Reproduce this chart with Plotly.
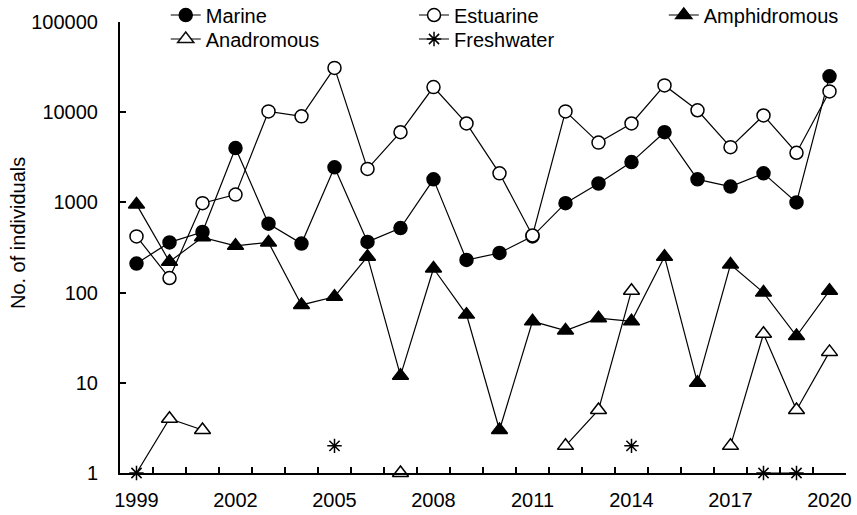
import plotly.graph_objects as go

years = list(range(1999, 2021))

marine = [210, 360, 470, 4000, 580, 350, 2450, 365, 520, 1800, 230, 275,
          420, 980, 1620, 2800, 6000, 1800, 1500, 2100, 1000, 25000]
estuarine = [420, 145, 980, 1220, 10200, 9000, 31000, 2350, 6000, 19000, 7500, 2100,
             430, 10200, 4600, 7500, 19800, 10500, 4100, 9200, 3550, 17000]
amphidromous = [950, 220, 410, 330, 360, 73, 90, 250, 12, 185, 57, 3,
                48, 38, 52, 48, 250, 10, 205, 100, 33, 105]
anadromous = [1, 4, 3, None, None, None, None, None, 1, None, None, None,
              None, 2, 5, 105, None, None, 2, 35, 5, 22]
freshwater = [1, None, None, None, None, None, 2, None, None, None, None, None,
              None, None, None, 2, None, None, None, 1, 1, None]

ytick_vals = [1, 10, 100, 1000, 10000, 100000]
ytick_text = ["1", "10", "100", "1000", "10000", "100000"]
xtick_vals = [1999, 2002, 2005, 2008, 2011, 2014, 2017, 2020]
xtick_text = [str(v) for v in xtick_vals]

FONT = "Liberation Sans, Arial, sans-serif"
FS = 20

# (name, values, marker style, legend id, legend x, legend y) -- legend pos in paper coords
series = [
    ("Marine", marine, dict(symbol="circle", color="black", size=13,
                            line=dict(color="black", width=1.5)), "legend", 0.063, 1.0155),
    ("Estuarine", estuarine, dict(symbol="circle", color="white", size=13,
                                  line=dict(color="black", width=1.5)), "legend2", 0.405, 1.0155),
    ("Amphidromous", amphidromous, dict(symbol="triangle-up", color="black", size=14,
                                        line=dict(color="black", width=1.5)), "legend3", 0.749, 1.0155),
    ("Anadromous", anadromous, dict(symbol="triangle-up", color="white", size=14,
                                    opacity=[0] + [1] * (len(years) - 1),
                                    line=dict(color="black", width=1.5)), "legend4", 0.063, 0.9623),
    ("Freshwater", freshwater, dict(symbol="asterisk-open", color="black", size=12,
                                    line=dict(color="black", width=1.5)), "legend5", 0.405, 0.9623),
]

fig = go.Figure()
legends = {}
for name, vals, marker, leg, lx, ly in series:
    fig.add_trace(go.Scatter(
        x=years, y=vals, name=name, mode="lines+markers",
        line=dict(color="black", width=1.2),
        marker=marker, cliponaxis=False, legend=leg, showlegend=True,
        connectgaps=False,
    ))
    legends[leg] = dict(x=lx, y=ly, orientation="v", yanchor="middle", xanchor="left",
                        font=dict(family=FONT, size=FS, color="black"),
                        bgcolor="rgba(0,0,0,0)", tracegroupgap=0)

minor_vals = [y - 0.5 for y in years] + [2020.5]

fig.update_layout(
    width=857, height=515,
    showlegend=True,
    margin=dict(l=120, r=11, t=22, b=42, autoexpand=False),
    paper_bgcolor="white", plot_bgcolor="white",
    font=dict(family=FONT, size=FS, color="black"),
    xaxis=dict(
        range=[1998.5, 2020.5], tickmode="array", tickvals=xtick_vals, ticktext=xtick_text,
        ticks="inside", ticklen=0, showline=True, linecolor="black", linewidth=2,
        showgrid=False, zeroline=False, ticklabelstandoff=8,
        minor=dict(tickmode="array", tickvals=minor_vals, ticks="inside", ticklen=6,
                   tickwidth=1.5, tickcolor="black", showgrid=False),
        tickfont=dict(family=FONT, size=FS, color="black"),
    ),
    yaxis=dict(
        type="log", range=[0, 5], tickmode="array", tickvals=ytick_vals, ticktext=ytick_text,
        ticks="inside", ticklen=6, tickwidth=1.5, tickcolor="black",
        showline=True, linecolor="black", linewidth=2, showgrid=False, zeroline=False,
        ticklabelstandoff=16,
        tickfont=dict(family=FONT, size=FS, color="black"),
    ),
    annotations=[dict(
        text="No. of individuals", xref="paper", yref="paper",
        x=-0.1405, y=0.532, xanchor="center", yanchor="middle", textangle=-90,
        showarrow=False, font=dict(family=FONT, size=FS, color="black"),
    )],
    **legends,
)

fig.write_html("out.html")
